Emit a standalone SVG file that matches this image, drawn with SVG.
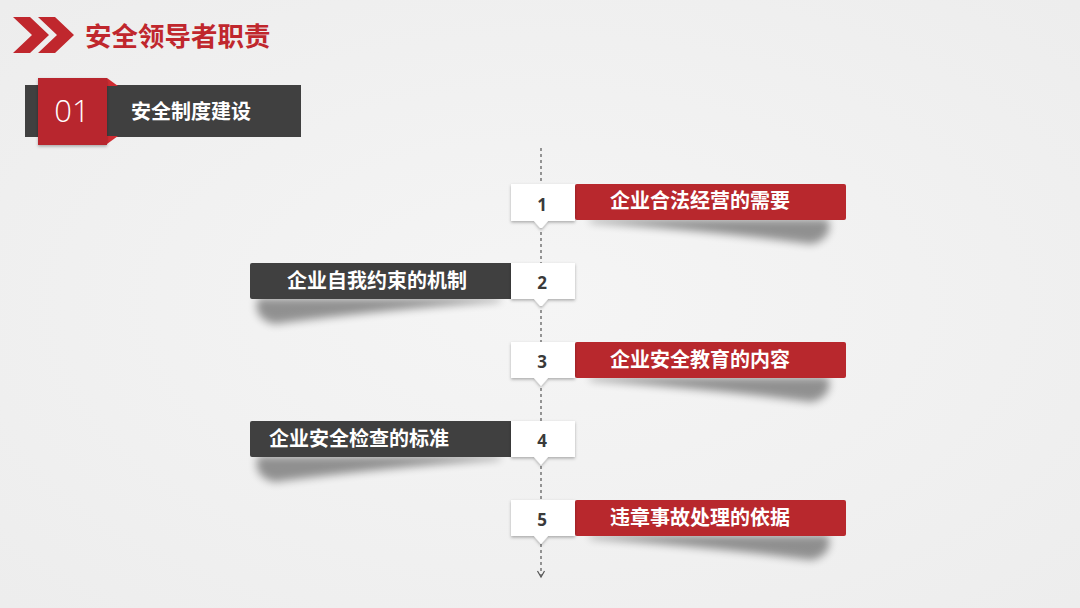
<svg xmlns="http://www.w3.org/2000/svg" width="1080" height="608" viewBox="0 0 1080 608">
<defs>
<radialGradient id="bg" cx="50%" cy="50%" r="70%">
<stop offset="0" stop-color="#f5f5f5"/><stop offset="1" stop-color="#ededed"/>
</radialGradient>
<filter id="blur" x="-20%" y="-100%" width="140%" height="300%"><feGaussianBlur stdDeviation="4.5"/></filter>
<filter id="ds" x="-20%" y="-20%" width="140%" height="160%"><feDropShadow dx="0" dy="1.5" stdDeviation="1.5" flood-color="#000" flood-opacity="0.3"/></filter>
<style>
.red{fill:#b8282d}
.dark{fill:#404040}
.lbl{font-family:"Noto Sans CJK SC","Noto Sans",sans-serif;font-weight:bold;font-size:20px;fill:#fff;text-anchor:middle}
.num{font-family:"Open Sans","Liberation Sans",sans-serif;font-weight:bold;font-size:17px;fill:#3a3a3a;text-anchor:middle}
.box{fill:#fff}
.sh{fill:#000;opacity:0.4}
</style>
</defs>
<rect width="1080" height="608" fill="url(#bg)"/>

<g id="title">
<polygon points="13,17 30,17 49,35 30,53 13,53 32,35" fill="#c0272d"/>
<polygon points="38,17 55,17 74,35 55,53 38,53 57,35" fill="#c0272d"/>
<text x="85" y="46" font-family="Noto Sans CJK SC, sans-serif" font-weight="bold" font-size="26.5" fill="#c0272d">安全领导者职责</text>
</g>

<g id="section">
<rect x="25" y="85" width="276" height="52" fill="#404040"/>
<polygon points="107,78 118,86 107,86" fill="#d02c32"/>
<polygon points="107,136 118,136 107,144" fill="#d02c32"/>
<rect x="38" y="78" width="69" height="67" fill="#b8282d" filter="url(#ds)"/>
<text x="72" y="122" font-family="Open Sans, Liberation Sans, sans-serif" font-weight="300" font-size="31" fill="#fff" text-anchor="middle">01</text>
<text x="131" y="119" font-family="Noto Sans CJK SC, sans-serif" font-weight="bold" font-size="20" fill="#fff">安全制度建设</text>
</g>

<g id="connectors">
<line x1="541" y1="148" x2="541" y2="576" stroke="#555" stroke-width="1.2" stroke-dasharray="3,3"/>
<path d="M537.5,571 L541,577 L544.5,571" fill="none" stroke="#555" stroke-width="1.2"/>
</g>

<g id="item1">
<path class="sh" filter="url(#blur)" d="M590,219 L828,219 Q834,238 812,244 Q720,232 590,222 Z"/>
<rect class="red" x="575" y="184" width="271" height="36" rx="2"/>
<path class="box" filter="url(#ds)" d="M511,184 H575 V221 H548 L541,229 L534,221 H511 Z"/>
<text class="num" x="542" y="211">1</text>
<text class="lbl" x="700" y="208">企业合法经营的需要</text>
</g>

<g id="item2">
<path class="sh" filter="url(#blur)" d="M500,298 L258,298 Q252,318 274,324 Q380,310 500,301 Z"/>
<rect class="dark" x="250" y="263" width="263" height="36" rx="2"/>
<path class="box" filter="url(#ds)" d="M511,263 H575 V299 H548 L541,307 L534,299 H511 Z"/>
<text class="num" x="542" y="289">2</text>
<text class="lbl" x="377" y="288">企业自我约束的机制</text>
</g>

<g id="item3">
<path class="sh" filter="url(#blur)" d="M590,377 L828,377 Q834,396 812,402 Q720,390 590,380 Z"/>
<rect class="red" x="575" y="342" width="271" height="36" rx="2"/>
<path class="box" filter="url(#ds)" d="M511,342 H575 V378 H548 L541,386 L534,378 H511 Z"/>
<text class="num" x="542" y="368">3</text>
<text class="lbl" x="700" y="367">企业安全教育的内容</text>
</g>

<g id="item4">
<path class="sh" filter="url(#blur)" d="M500,456 L258,456 Q252,476 274,482 Q380,468 500,459 Z"/>
<rect class="dark" x="250" y="421" width="263" height="36" rx="2"/>
<path class="box" filter="url(#ds)" d="M511,421 H575 V457 H548 L541,465 L534,457 H511 Z"/>
<text class="num" x="542" y="447">4</text>
<text class="lbl" x="359" y="446">企业安全检查的标准</text>
</g>

<g id="item5">
<path class="sh" filter="url(#blur)" d="M590,535 L828,535 Q834,554 812,560 Q720,548 590,538 Z"/>
<rect class="red" x="575" y="500" width="271" height="36" rx="2"/>
<path class="box" filter="url(#ds)" d="M511,500 H575 V536 H548 L541,544 L534,536 H511 Z"/>
<text class="num" x="542" y="526">5</text>
<text class="lbl" x="700" y="525">违章事故处理的依据</text>
</g>
</svg>
